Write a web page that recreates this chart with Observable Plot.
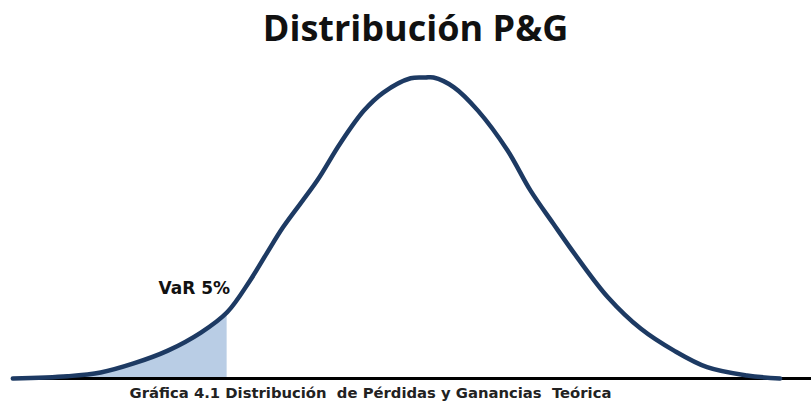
<!DOCTYPE html>
<html>
<head>
<meta charset="utf-8">
<script src="https://cdn.jsdelivr.net/npm/d3@7"></script>
<script src="https://cdn.jsdelivr.net/npm/@observablehq/plot@0.6"></script>
<style>
  html, body { margin: 0; padding: 0; background: #fff; }
  body { width: 811px; height: 401px; overflow: hidden; font-family: "Open Sans", sans-serif; }
  #title { height: 60px; line-height: 56px; text-align: center; font-size: 36px; font-weight: 700; color: #111; padding-left: 20px; box-sizing: border-box; }
  #chart svg { display: block; }
  #caption { height: 18px; line-height: 19px; text-align: center; font-family: "DejaVu Sans", sans-serif; font-size: 14.8px; font-weight: 700; color: #222; white-space: pre; padding-right: 70px; box-sizing: border-box; }
</style>
</head>
<body>
<div id="title">Distribución P&amp;G</div>
<div id="chart"></div>
<div id="caption">Gráfica 4.1 Distribución  de Pérdidas y Ganancias  Teórica</div>
<script>
// P&G outcome (in standard deviations) and density
const pnl = [-3.62, -3.14, -2.85, -2.56, -2.26, -1.97, -1.74, -1.54, -1.39, -1.25, -0.95, -0.75, -0.54, -0.37, -0.13, 0.00, 0.07, 0.25, 0.46, 0.72, 0.92, 1.12, 1.33, 1.60, 1.89, 2.18, 2.47, 2.82, 3.11];
const density = [0.000, 0.003, 0.008, 0.020, 0.037, 0.061, 0.088, 0.130, 0.167, 0.201, 0.263, 0.312, 0.356, 0.380, 0.399, 0.400, 0.400, 0.387, 0.356, 0.303, 0.250, 0.206, 0.161, 0.108, 0.066, 0.037, 0.015, 0.004, 0.000];
const varLevel = -1.74;
const varLabel = "VaR 5%";
const xDomain = [-3.728, 3.386];

const data = pnl.map((x, i) => ({x, y: density[i]}));
const tail = data.filter(d => d.x <= varLevel);
const varPoint = data.find(d => d.x === varLevel);

const chart = Plot.plot({
  width: 811,
  height: 323,
  marginTop: 17,
  marginBottom: 5,
  marginLeft: 0,
  marginRight: 0,
  x: {domain: xDomain, axis: null},
  y: {domain: [0, 0.4], axis: null},
  marks: [
    Plot.areaY(tail, {x: "x", y: "y", fill: "#b9cde5", curve: "catmull-rom"}),
    Plot.ruleY([0], {x1: pnl[0], x2: xDomain[1], stroke: "#000", strokeWidth: 3}),
    Plot.lineY(data, {x: "x", y: "y", stroke: "#1d3a63", strokeWidth: 4.5, curve: "catmull-rom", strokeLinecap: "round"}),
    Plot.text([varPoint], {x: "x", y: "y", text: () => varLabel, textAnchor: "end", dx: 3, dy: -24, fontSize: 17, fontWeight: 700, fill: "#111", fontFamily: "DejaVu Sans"})
  ]
});
document.getElementById("chart").appendChild(chart);
</script>
</body>
</html>
